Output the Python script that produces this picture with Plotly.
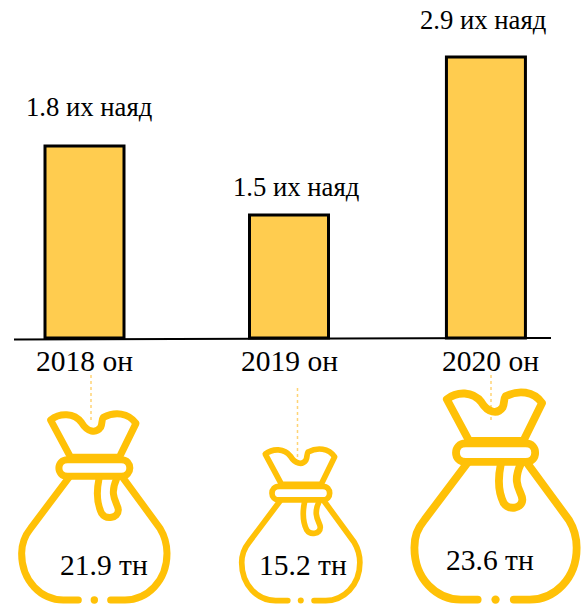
import plotly.graph_objects as go

W, H = 581, 606

# Data
years = ["2018 он", "2019 он", "2020 он"]
bar_labels = ["1.8 их наяд", "1.5 их наяд", "2.9 их наяд"]
bag_labels = ["21.9 тн", "15.2 тн", "23.6 тн"]
# Bar heights as drawn in the picture (they are not proportional to the printed labels)
bar_heights = [1.92, 1.23, 2.81]
bar_positions = [0, 1, 1.963]

# Style and layout
YELLOW = "#FFC107"
BAR_FILL = "#FFCC4F"
DOT = "#FFD474"
FONT = "Liberation Serif"
X_PER_PX = 1 / 204.5
Y_PER_PX = 1 / 100
x_range = [-84.5 * X_PER_PX, (W - 84.5) * X_PER_PX]
y_range = [-(H - 338) * Y_PER_PX, 338 * Y_PER_PX]


def px(x):
    return f"{x / W:.5f}"


def py(y):
    return f"{1 - y / H:.5f}"


# Bag icon, in the 3x-zoom coordinates of the first bag
NECK = [
    ("M", (152, 240)),
    ("C", (180, 218), (222, 218), (245, 248)),
    ("C", (262, 276), (288, 282), (302, 262)),
    ("C", (308, 250), (304, 240), (310, 232)),
    ("C", (345, 214), (385, 218), (408, 250)),
    ("L", (358, 352)),
    ("L", (212, 352)),
    ("Z",),
]
TIE = [
    ("M", (203, 359)),
    ("L", (364, 359)),
    ("C", (398, 359), (398, 409), (364, 409)),
    ("L", (203, 409)),
    ("C", (168, 409), (168, 359), (203, 359)),
    ("Z",),
]
BODY_L = [
    ("M", (207, 412)),
    ("L", (92, 565)),
    ("C", (72, 590), (65, 610), (65, 640)),
    ("C", (65, 725), (125, 780), (190, 780)),
    ("L", (235, 780)),
]
BODY_R = [
    ("M", (368, 412)),
    ("L", (480, 565)),
    ("C", (495, 590), (501, 610), (501, 640)),
    ("C", (501, 725), (440, 780), (375, 780)),
    ("L", (332, 780)),
]
TAIL = [
    ("M", (297, 416)),
    ("C", (290, 450), (290, 490), (305, 520)),
    ("C", (318, 540), (355, 535), (355, 510)),
    ("C", (355, 490), (325, 470), (350, 416)),
]
DOT_C = (283, 780)
BASE_X0, BASE_Y0, BASE_W, BASE_H = 55, 215, 455, 575

# Pixel box of each bag: left, top, right, bottom
bag_boxes = [(18.3, 411.7, 170, 603.3), (239, 447.3, 362.3, 603.3), (410.7, 390, 580, 603.3)]
stems = [(91, 375, 420), (297.5, 388, 460), (491, 375, 420)]


def to_path(cmds, box):
    l, t, r, b = box
    sx, sy = (r - l) / BASE_W, (b - t) / BASE_H
    out = []
    for c in cmds:
        out.append(c[0])
        for (x, y) in c[1:]:
            out.append(f"{px(l + (x - BASE_X0) * sx)},{py(t + (y - BASE_Y0) * sy)}")
    return " ".join(out)


shapes = []
for box, (sx, s0, s1) in zip(bag_boxes, stems):
    shapes.append(dict(type="line", xref="paper", yref="paper", x0=sx / W, x1=sx / W,
                       y0=1 - s0 / H, y1=1 - s1 / H, line=dict(color=DOT, width=1.5, dash="dot")))
    scale = (box[2] - box[0]) / BASE_W
    rel = scale * 3
    for part in (NECK, TIE, BODY_L, BODY_R, TAIL):
        shapes.append(dict(type="path", xref="paper", yref="paper", path=to_path(part, box),
                           line=dict(color=YELLOW, width=7 * rel),
                           fillcolor="rgba(0,0,0,0)"))
    cx = box[0] + (DOT_C[0] - BASE_X0) * scale
    cy = box[1] + (DOT_C[1] - BASE_Y0) * (box[3] - box[1]) / BASE_H
    rad = 3.7 * rel
    shapes.append(dict(type="circle", xref="paper", yref="paper",
                       x0=(cx - rad) / W, x1=(cx + rad) / W,
                       y0=1 - (cy + rad) / H, y1=1 - (cy - rad) / H,
                       fillcolor=YELLOW, line=dict(width=0)))

# Baseline
shapes.append(dict(type="line", xref="paper", yref="paper", x0=14 / W, x1=551 / W,
                   y0=1 - 339.5 / H, y1=1 - 338 / H, line=dict(color="black", width=2)))


def text(s, x, y, size):
    return dict(text=s, xref="paper", yref="paper", x=x / W, y=1 - y / H, showarrow=False,
                xanchor="center", yanchor="middle", font=dict(family=FONT, size=size, color="black"))


annotations = []
for s, (x, y) in zip(bar_labels, [(89, 107), (296, 187), (483, 20)]):
    annotations.append(text(s, x, y, 26.7))
for s, (x, y) in zip(years, [(84.5, 361), (289.5, 361), (490, 361)]):
    annotations.append(text(s, x, y, 29.5))
for s, (x, y) in zip(bag_labels, [(104, 565), (303, 565), (490, 560)]):
    annotations.append(text(s, x, y, 29.5))

fig = go.Figure(go.Bar(
    x=bar_positions, y=bar_heights, width=79 * X_PER_PX,
    marker=dict(color=BAR_FILL, line=dict(color="black", width=3)),
    hoverinfo="skip",
))
fig.update_layout(
    width=W, height=H, margin=dict(l=0, r=0, t=0, b=0), autosize=False,
    paper_bgcolor="white", plot_bgcolor="white", showlegend=False,
    xaxis=dict(range=x_range, visible=False, fixedrange=True),
    yaxis=dict(range=y_range, visible=False, fixedrange=True),
    shapes=shapes, annotations=annotations,
)
fig.write_html(
    "out.html", config=dict(displayModeBar=False, responsive=False),
    post_script=(
        "document.body.style.margin='0';document.documentElement.style.overflow='hidden';"
        "document.querySelectorAll('.shapelayer path').forEach(function(p){"
        "if(parseFloat(p.style.strokeWidth)>3){p.style.strokeLinecap='round';p.style.strokeLinejoin='round';}});"
    ),
)
